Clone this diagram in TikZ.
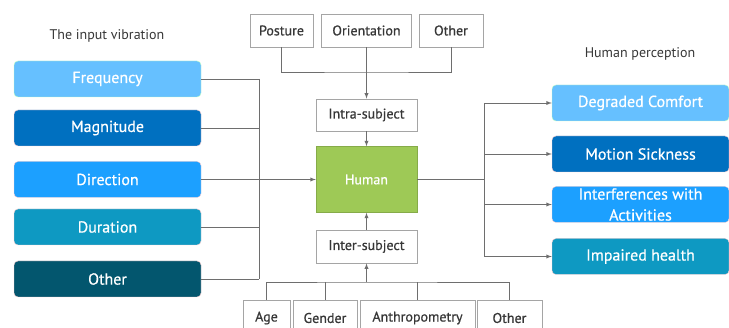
\documentclass[tikz,border=0pt]{standalone}
\usepackage{fontspec}
\setmainfont{PT Sans}
\newfontfamily\boxfont{PT Sans}[FakeBold=0.6]
\usetikzlibrary{arrows,positioning}
\definecolor{cFreq}{RGB}{102,192,255}
\definecolor{cMag}{RGB}{0,112,192}
\definecolor{cDir}{RGB}{28,160,255}
\definecolor{cDur}{RGB}{14,153,194}
\definecolor{cOth}{RGB}{3,86,110}
\definecolor{cHum}{RGB}{158,201,86}
\definecolor{cLine}{RGB}{110,110,110}
\definecolor{cBox}{RGB}{165,165,165}
\definecolor{cText}{RGB}{55,55,55}
\tikzset{
    raw factor/.style={rectangle, minimum height=36pt, inner sep=1pt, align=center, text=white, font=\boxfont\fontsize{16}{16}\selectfont},
    vib/.style={raw factor, rounded corners=4pt, minimum width=187pt, fill=#1, draw=red!20},
    perc/.style={raw factor, rounded corners=4pt, minimum width=177pt, fill=#1, draw=red!20},
    subj/.style={rectangle, draw=cBox, thick, fill=white, text=cText, minimum height=33pt, font=\boxfont\fontsize{14}{14}\selectfont},
    caption/.style={text=cText, font=\fontsize{14}{14}\selectfont},
    link/.style={draw=cLine, line width=0.9pt},
    feed/.style={link, ->}
}
\begin{document}
\begin{tikzpicture}[x=1pt, y=-1pt, >=latex]
	\useasboundingbox (0,0) rectangle (729,328);
	% input vibration
	\node[caption] (invib) at (107,36) {The input vibration};
	\node[vib=cFreq, draw=green!25] (freq) at (107.5,79) {Frequency};
	\node[vib=cMag] (mag) at (107.5,128) {Magnitude};
	\node[vib=cDir] (dir) at (107.5,179.5) {Direction};
	\node[vib=cDur] (dur) at (107.5,227) {Duration};
	\node[vib=cOth] (oth) at (107.5,279) {Other};
	% human and subject factors
	\node[rectangle, fill=cHum, draw=cHum!85!black, minimum width=101pt, minimum height=66pt, text=white, font=\boxfont\fontsize{14}{14}\selectfont] (hum) at (366.5,179.5) {Human};
	\node[subj, minimum width=101pt, minimum height=32pt] (intra) at (366.5,115) {Intra-subject};
	\node[subj, minimum width=101pt] (inter) at (366.5,246.5) {Inter-subject};
	\node[subj, minimum width=63pt] (post) at (281.5,30.5) {Posture};
	\node[subj, minimum width=90pt] (orient) at (366.5,30.5) {Orientation};
	\node[subj, minimum width=64pt] (othtop) at (451,30.5) {Other};
	\node[subj, minimum width=47pt, minimum height=36pt] (age) at (266.5,318) {Age};
	\node[subj, minimum width=64pt, minimum height=36pt] (gender) at (325,318) {Gender};
	\node[subj, minimum width=115pt, minimum height=36pt] (anthro) at (417.5,318) {Anthropometry};
	\node[subj, minimum width=65pt, minimum height=36pt] (othbot) at (509.5,318) {Other};
	% human perception
	\node[caption] (hperc) at (640,54) {Human perception};
	\node[perc=cFreq, draw=green!25] (comf) at (640.5,103) {Degraded Comfort};
	\node[perc=cMag] (sick) at (640.5,154) {Motion Sickness};
	\node[perc=cDir] (interf) at (640.5,204.5) {Interferences with\\[5pt]Activities};
	\node[perc=cDur] (health) at (640.5,256.5) {Impaired health};
	% buses
	\coordinate (lbus) at (259,179.5);
	\coordinate (tbus) at (366.5,72);
	\coordinate (bbus) at (366.5,282);
	\coordinate (rbus) at (484,179.5);
	% connectors
	\foreach \n in {freq,mag,dir,dur,oth}
		\draw[link] (\n.east) -- (\n.east -| lbus);
	\draw[link] (freq.east -| lbus) -- (oth.east -| lbus);
	\draw[feed] (lbus) -- (hum.west);
	\draw[link] (post.south) |- (tbus) -| (othtop.south);
	\draw[feed] (orient.south) -- (intra.north);
	\draw[feed] (intra.south) -- (hum.north);
	\draw[link] (age.north) |- (bbus) -| (othbot.north);
	\draw[link] (gender.north) -- (gender.north |- bbus);
	\draw[link] (anthro.north) -- (anthro.north |- bbus);
	\draw[feed] (bbus) -- (inter.south);
	\draw[feed] (inter.north) -- (hum.south);
	\draw[link] (hum.east) -- (rbus);
	\draw[link] (comf.west -| rbus) -- (health.west -| rbus);
	\foreach \n in {comf,sick,interf,health}
		\draw[feed] (\n.west -| rbus) -- (\n.west);
\end{tikzpicture}
\end{document}
